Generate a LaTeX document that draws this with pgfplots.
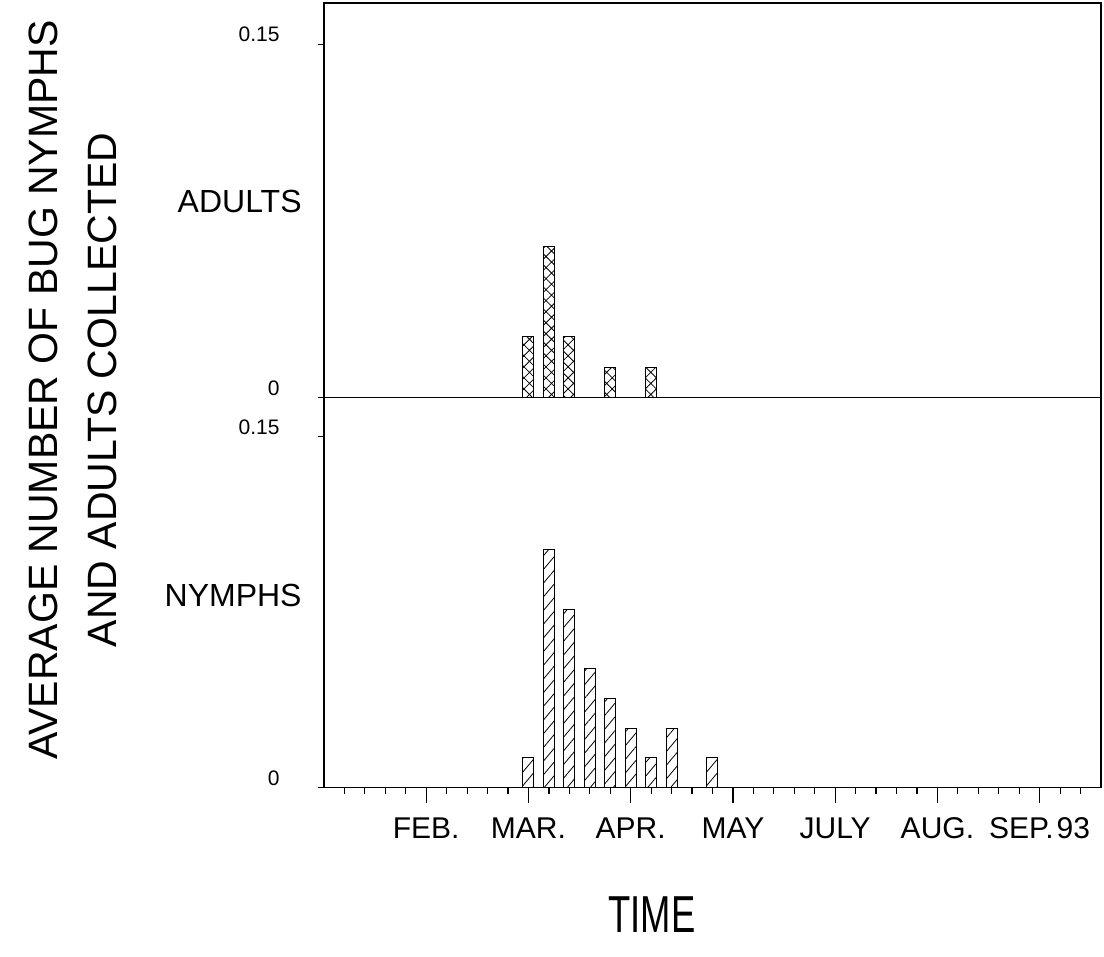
\documentclass[border=0pt]{standalone}
\usepackage{pgfplots}
\pgfplotsset{compat=1.18}
\usetikzlibrary{patterns.meta}
\usepackage{fontspec}
\setmainfont{Liberation Sans}
\begin{document}
\begin{tikzpicture}
\useasboundingbox (0,0) rectangle (552pt,478.5pt);
\pgfplotsset{
  common/.style={
    scale only axis, width=388.5pt,
    xmin=-1, xmax=37, ymin=0,
    axis line style={line width=0.7pt},
    tick style={line width=0.6pt, black},
    tick align=outside,
    ytick pos=left,
    ytick={0,0.15}, yticklabels={0,0.15},
    minor ytick={0,0.15},
    major y tick style={draw=none},
    minor tick length=3pt,
    major tick length=7.5pt,
    yticklabel style={font=\fontsize{10.5}{12}\selectfont, anchor=south east, inner sep=0pt, xshift=-14.5pt, yshift=1pt},
    clip=false,
  }
}
% top panel: adults
\begin{axis}[common, at={(162pt,279.65pt)}, anchor=south west,
  height=197.35pt, ymax=0.1675, xtick=\empty]
\addplot[ybar, bar width=5.5pt, bar shift=0pt, draw=black, line width=0.5pt,
  pattern={Hatch[angle=45,distance=3.9pt,line width=0.4pt]}]
  coordinates {(9,0.026) (10,0.064) (11,0.026) (13,0.013) (15,0.013)};
\node[anchor=east, inner sep=0pt, font=\fontsize{16}{19}\selectfont] at (rel axis cs:0,0.4966) [xshift=-11pt] {ADULTS};
\end{axis}
% bottom panel: nymphs
\begin{axis}[common, at={(162pt,84.65pt)}, anchor=south west,
  height=195pt, ymax=0.1667,
  xtick pos=bottom,
  xtick={4,9,14,19,24,29,34},
  xticklabels={FEB.,MAR.,APR.,MAY,JULY,AUG.,SEP.\kern1.5pt 93},
  minor xtick={0,...,36},
  xticklabel style={font=\fontsize{15}{18}\selectfont, anchor=north, inner sep=0pt, text height=10.8pt, text depth=0pt, yshift=-7pt}]
\addplot[ybar, bar width=5.5pt, bar shift=0pt, draw=black, line width=0.5pt,
  pattern={Lines[angle=50,distance=4.4pt,line width=0.4pt]}]
  coordinates {(9,0.0127) (10,0.1016) (11,0.0762) (12,0.0508) (13,0.0381) (14,0.0254) (15,0.0127) (16,0.0254) (18,0.0127)};
\node[anchor=east, inner sep=0pt, font=\fontsize{16}{19}\selectfont] at (rel axis cs:0,0.494) [xshift=-11pt] {NYMPHS};
\end{axis}
\node[rotate=90, align=center, inner sep=0pt, font=\fontsize{20.5}{29.5}\selectfont] at (36.25pt,283.5pt) {AVERAGE NUMBER OF BUG NYMPHS\\AND ADULTS COLLECTED};
\node[inner sep=0pt, xscale=0.7, font=\fontsize{26}{30}\selectfont] at (326pt,21pt) {TIME};
\end{tikzpicture}
\end{document}
